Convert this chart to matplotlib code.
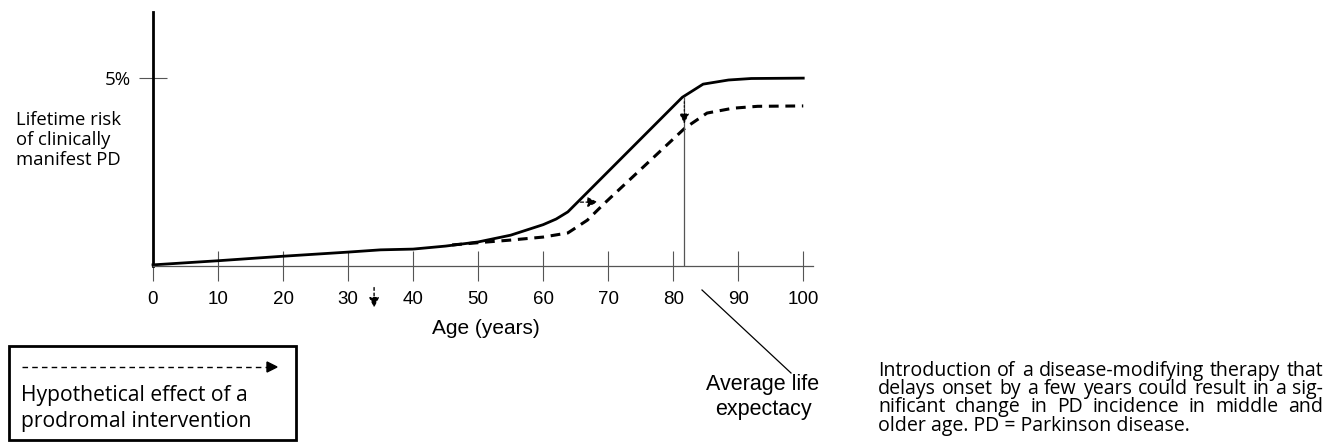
import matplotlib.pyplot as plt
from matplotlib.lines import Line2D

W, H = 1335, 445

# lifetime risk curves (%)
age_now = [0, 10, 20, 30, 35, 40, 45, 50, 55, 60, 62, 63.8, 81.4, 84.6, 88.5, 92, 100]
risk_now = [0.03, 0.14, 0.26, 0.37, 0.43, 0.45, 0.53, 0.64, 0.82, 1.1, 1.25, 1.44, 4.49, 4.84, 4.95, 4.99, 5.0]

age_delay = [46, 50, 55, 60, 63.8, 66.8, 69.5, 81.8, 85.2, 89.2, 93, 100]
risk_delay = [0.56, 0.62, 0.69, 0.77, 0.88, 1.22, 1.68, 3.67, 4.07, 4.2, 4.25, 4.26]

xticks = [0, 10, 20, 30, 40, 50, 60, 70, 80, 90, 100]
life_exp = 81.7
shift_y = 1.70
shift_from, shift_to = 65.3, 68.8

caption = ["Introduction of a disease-modifying therapy that",
           "delays onset by a few years could result in a sig-",
           "nificant change in PD incidence in middle and",
           "older age. PD = Parkinson disease."]


def fx(x):
    return x / W


def fy(y):
    return 1 - y / H


fig = plt.figure(figsize=(W / 100, H / 100), dpi=100)
ax = fig.add_axes([fx(153), fy(266), 660 / W, 254 / H])
ax.set_xlim(0, 101.5)
ax.set_ylim(0, 6.76)

for s in ["top", "right"]:
    ax.spines[s].set_visible(False)
ax.spines["left"].set_linewidth(2.0)
ax.spines["left"].set_color("black")
ax.spines["bottom"].set_linewidth(0.9)
ax.spines["bottom"].set_color("#555555")

ax.set_xticks(xticks)
ax.set_xticklabels([str(t) for t in xticks], fontfamily="Liberation Sans", fontsize=13.5)
ax.tick_params(axis="x", direction="inout", length=22, width=0.8, color="#555555", pad=7)
ax.set_yticks([5])
ax.set_yticklabels(["5%"], fontfamily="Open Sans", fontsize=13.5)
ax.tick_params(axis="y", direction="inout", length=20, width=0.8, color="#555555", pad=6)

ax.plot(age_now, risk_now, color="black", lw=2.0, solid_joinstyle="round", clip_on=False)
ax.plot(age_delay, risk_delay, color="black", lw=2.2, linestyle=(0, (3.2, 2.2)), clip_on=False)

# life expectancy marker
ax.plot([life_exp, life_exp], [0, 4.49], color="#555555", lw=0.9)
ax.annotate("", xy=(life_exp, 3.72), xytext=(life_exp, 4.45),
            arrowprops=dict(arrowstyle="-|>", color="black", lw=0.7,
                            linestyle=(0, (2, 2)), mutation_scale=15))
# horizontal shift arrow
ax.annotate("", xy=(shift_to, shift_y), xytext=(shift_from, shift_y),
            arrowprops=dict(arrowstyle="-|>", color="black", lw=0.9,
                            linestyle=(0, (2.5, 2)), mutation_scale=15))
# small arrow below the axis
ax.annotate("", xy=(34, -1.18), xytext=(34, -0.5), annotation_clip=False,
            arrowprops=dict(arrowstyle="-|>", color="black", lw=1.0,
                            linestyle=(0, (2, 2)), mutation_scale=15))

fig.text(fx(486), fy(329), "Age (years)", ha="center", va="center",
         fontfamily="Liberation Sans", fontsize=15)

fig.text(fx(16), fy(120), "Lifetime risk", ha="left", va="center", fontfamily="Open Sans", fontsize=13.3)
fig.text(fx(16), fy(140), "of clinically", ha="left", va="center", fontfamily="Open Sans", fontsize=13.3)
fig.text(fx(16), fy(160), "manifest PD", ha="left", va="center", fontfamily="Open Sans", fontsize=13.3)

# legend box
box = plt.Rectangle((fx(9), fy(440)), (296 - 9) / W, (440 - 346) / H, transform=fig.transFigure,
                    fill=False, lw=2.0, edgecolor="black")
fig.add_artist(box)
fig.add_artist(Line2D([fx(22), fx(270)], [fy(367), fy(367)], transform=fig.transFigure,
                      color="black", lw=1.0, linestyle=(0, (4, 3))))
fig.patches.append(plt.Polygon([(fx(267), fy(362)), (fx(277), fy(367)), (fx(267), fy(372))],
                               closed=True, color="black", transform=fig.transFigure))
fig.text(fx(21), fy(395), "Hypothetical effect of a", ha="left", va="center",
         fontfamily="Open Sans", fontsize=15.2)
fig.text(fx(21), fy(421), "prodromal intervention", ha="left", va="center",
         fontfamily="Open Sans", fontsize=15.2)

# life expectancy label
fig.add_artist(Line2D([fx(702), fx(791)], [fy(290), fy(373)], transform=fig.transFigure,
                      color="black", lw=0.9))
fig.text(fx(763), fy(397), "Average life\nexpectacy", ha="center", va="center",
         fontfamily="Liberation Sans", fontsize=15.5, linespacing=1.3)

# justified caption; font size chosen so the first line fills the column
renderer = fig.canvas.get_renderer()
cx0, cx1 = 878, 1323
cy = [371, 389, 407, 426]
probe = fig.text(0, 0, caption[0], fontfamily="Open Sans", fontsize=10)
csize = 10 * (cx1 - cx0 - 4) / probe.get_window_extent(renderer).width
probe.remove()
for i, line in enumerate(caption):
    words = line.split(" ")
    if i == len(caption) - 1:
        fig.text(fx(cx0), fy(cy[i]), line, ha="left", va="center", fontfamily="Open Sans", fontsize=csize)
        continue
    arts = [fig.text(0, 0, w, ha="left", va="center", fontfamily="Open Sans", fontsize=csize) for w in words]
    widths = [a.get_window_extent(renderer).width for a in arts]
    gap = (cx1 - cx0 - sum(widths)) / (len(words) - 1)
    x = cx0
    for a, wd in zip(arts, widths):
        a.set_position((fx(x), fy(cy[i])))
        x += wd + gap

fig.savefig("out.png", dpi=100)
